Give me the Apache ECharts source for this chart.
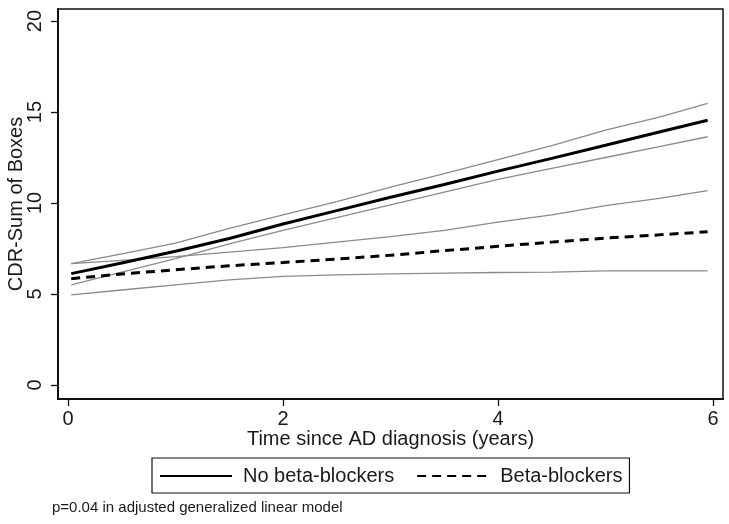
<!DOCTYPE html>
<html>
<head>
<meta charset="utf-8">
<script src="https://cdn.jsdelivr.net/npm/echarts@6/dist/echarts.min.js"></script>
<style>
  html, body { margin: 0; padding: 0; background: #fff; }
  #chart { width: 729px; height: 524px; }
</style>
</head>
<body>
<div id="chart"></div>
<script>
// Time since AD diagnosis (years)
const years = [0.03, 0.5, 1.0, 1.5, 2.0, 2.5, 3.0, 3.5, 4.0, 4.5, 5.0, 5.5, 5.95];
// No beta-blockers: estimate and confidence band
const noBB      = [6.12, 6.70, 7.35, 8.05, 8.85, 9.58, 10.32, 11.02, 11.75, 12.45, 13.17, 13.90, 14.55];
const noBBUpper = [6.67, 7.20, 7.80, 8.60, 9.35, 10.08, 10.87, 11.62, 12.38, 13.15, 14.00, 14.72, 15.48];
const noBBLower = [5.50, 6.20, 6.95, 7.75, 8.50, 9.20, 9.90, 10.60, 11.30, 11.90, 12.50, 13.10, 13.64];
// Beta-blockers: estimate and confidence band
const bb        = [5.84, 6.10, 6.33, 6.55, 6.73, 6.92, 7.13, 7.38, 7.62, 7.85, 8.07, 8.25, 8.42];
const bbUpper   = [6.67, 6.85, 7.05, 7.30, 7.55, 7.85, 8.15, 8.50, 8.95, 9.35, 9.85, 10.25, 10.68];
const bbLower   = [4.95, 5.22, 5.50, 5.78, 5.97, 6.05, 6.10, 6.15, 6.18, 6.20, 6.27, 6.27, 6.27];
// Tick labels
const xTicks = [0, 2, 4, 6];
const yTicks = [0, 5, 10, 15, 20];

const pair = arr => years.map((x, i) => [x, arr[i]]);
const FONT = 'Liberation Sans, Arial, sans-serif';
const TXT = '#1a1a1a';

function ciSeries(name, arr) {
  return {
    name: name, type: 'line', data: pair(arr), symbol: 'none', showSymbol: false,
    lineStyle: { color: '#8a8a8a', width: 1.3 }, z: 1, silent: true
  };
}

const chart = echarts.init(document.getElementById('chart'), null, { renderer: 'canvas' });
chart.setOption({
  animation: false,
  backgroundColor: '#fff',
  grid: {
    left: 58, right: 6, top: 9, bottom: 125, containLabel: false, outerBoundsMode: 'none',
    show: true, borderColor: '#111', borderWidth: 1.5, backgroundColor: 'transparent'
  },
  xAxis: {
    type: 'value', min: -0.093, max: 6.093,
    name: 'Time since AD diagnosis (years)', nameLocation: 'middle', nameGap: 30, nameMoveOverlap: false,
    nameTextStyle: { fontFamily: FONT, fontSize: 20, color: TXT },
    axisLine: { show: true, onZero: false, lineStyle: { color: '#111', width: 2 } },
    axisTick: { show: true, length: 7, customValues: xTicks, lineStyle: { color: '#111', width: 1.3 } },
    axisLabel: { customValues: xTicks, margin: 10, fontFamily: FONT, fontSize: 20, color: TXT },
    splitLine: { show: false }
  },
  yAxis: {
    type: 'value', min: -0.77, max: 20.66,
    name: 'CDR-Sum of Boxes', nameLocation: 'middle', nameGap: 32, nameRotate: 90, nameMoveOverlap: false,
    nameTextStyle: { fontFamily: FONT, fontSize: 20, color: TXT },
    axisLine: { show: true, onZero: false, lineStyle: { color: '#111', width: 2 } },
    axisTick: { show: true, length: 7, customValues: yTicks, lineStyle: { color: '#111', width: 1.3 } },
    axisLabel: { customValues: yTicks, rotate: 90, margin: 13, fontFamily: FONT, fontSize: 20, color: TXT },
    splitLine: { show: false }
  },
  legend: {
    data: ['No beta-blockers', 'Beta-blockers'],
    left: 152, top: 458,
    padding: [8, 7, 7, 7],
    itemGap: 22, itemWidth: 72, itemHeight: 14,
    borderColor: '#111', borderWidth: 1.2,
    itemStyle: { opacity: 0 },
    textStyle: { fontFamily: FONT, fontSize: 20, color: TXT, padding: [0, 0, 0, 6] }
  },
  graphic: [{
    type: 'text', left: 52, top: 500,
    style: { text: 'p=0.04 in adjusted generalized linear model', fontFamily: FONT, fontSize: 15, fill: TXT }
  }],
  series: [
    ciSeries('noBBUpper', noBBUpper),
    ciSeries('noBBLower', noBBLower),
    ciSeries('bbUpper', bbUpper),
    ciSeries('bbLower', bbLower),
    {
      name: 'No beta-blockers', type: 'line', data: pair(noBB), symbol: 'none', showSymbol: false,
      lineStyle: { color: '#000', width: 3 }, itemStyle: { color: '#000' }, z: 3
    },
    {
      name: 'Beta-blockers', type: 'line', data: pair(bb), symbol: 'none', showSymbol: false,
      lineStyle: { color: '#000', width: 3, type: [9, 6] }, itemStyle: { color: '#000' }, z: 3
    }
  ]
});
</script>
</body>
</html>
